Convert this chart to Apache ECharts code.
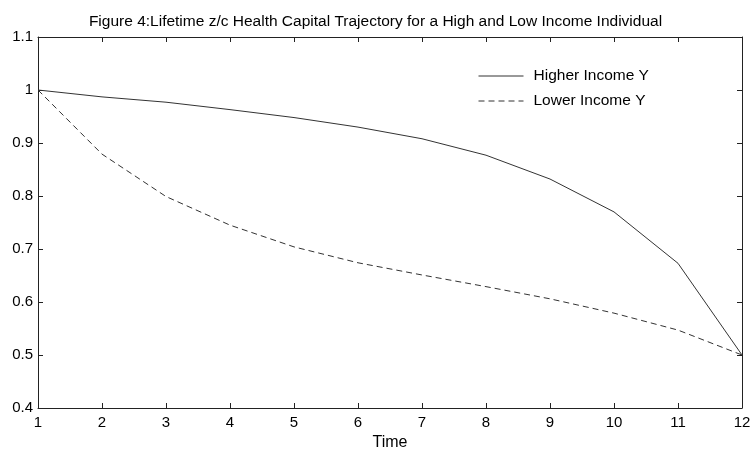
<!DOCTYPE html>
<html>
<head>
<meta charset="utf-8">
<script src="https://cdn.jsdelivr.net/npm/echarts@6/dist/echarts.min.js"></script>
<style>
  html, body { margin: 0; padding: 0; background: #fff; }
  #chart { width: 751px; height: 449px; }
</style>
</head>
<body>
<div id="chart"></div>
<script>
// Time periods and health capital trajectories
const timeSteps = [1, 2, 3, 4, 5, 6, 7, 8, 9, 10, 11, 12];
const higherIncome = [1.0, 0.987, 0.977, 0.963, 0.948, 0.930, 0.908, 0.877, 0.832, 0.770, 0.673, 0.5];
const lowerIncome = [1.0, 0.879, 0.799, 0.745, 0.704, 0.674, 0.651, 0.629, 0.606, 0.579, 0.547, 0.5];
const seriesNames = ['Higher Income Y', 'Lower Income Y'];

const font = 'Liberation Sans, Arial, sans-serif';
const ink = '#222';

const pairs = (ys) => timeSteps.map((t, i) => [t, ys[i]]);

const baseAxis = {
  axisLine: { show: true, lineStyle: { color: ink, width: 1 } },
  axisTick: { show: true, inside: true, length: 5, lineStyle: { color: ink } },
  splitLine: { show: false }
};

const chart = echarts.init(document.getElementById('chart'), null, { renderer: 'canvas' });
chart.setOption({
  animation: false,
  backgroundColor: '#fff',
  title: {
    text: 'Figure 4:Lifetime z/c Health Capital Trajectory for a High and Low Income Individual',
    left: 'center',
    top: 9,
    textStyle: { fontFamily: font, fontSize: 15.5, fontWeight: 'normal', color: '#000' }
  },
  legend: {
    orient: 'vertical',
    left: 473,
    top: 63,
    itemWidth: 45,
    itemHeight: 14,
    itemGap: 9,
    itemStyle: { opacity: 0 },
    lineStyle: { width: 1 },
    textStyle: { fontFamily: font, fontSize: 15.5, color: '#000', padding: [0, 0, 0, 5] },
    data: seriesNames
  },
  grid: { left: 38, right: 9, top: 37, bottom: 41, containLabel: false, outerBoundsMode: 'none' },
  xAxis: [
    Object.assign({}, baseAxis, {
      type: 'value', min: 1, max: 12, interval: 1,
      name: 'Time', nameLocation: 'middle', nameGap: 25,
      nameTextStyle: { fontFamily: font, fontSize: 16, color: '#000' },
      axisLabel: { fontFamily: font, fontSize: 15, color: '#000', margin: 7 }
    }),
    Object.assign({}, baseAxis, {
      type: 'value', min: 1, max: 12, interval: 1, position: 'top',
      axisLabel: { show: false }
    })
  ],
  yAxis: [
    Object.assign({}, baseAxis, {
      type: 'value', min: 0.4, max: 1.1, interval: 0.1,
      axisLabel: {
        fontFamily: font, fontSize: 15, color: '#000', margin: 5,
        formatter: (v) => String(Math.round(v * 10) / 10)
      }
    }),
    Object.assign({}, baseAxis, {
      type: 'value', min: 0.4, max: 1.1, interval: 0.1, position: 'right',
      axisLabel: { show: false }
    })
  ],
  series: [
    {
      name: seriesNames[0], type: 'line', xAxisIndex: 0, yAxisIndex: 0,
      data: pairs(higherIncome), symbol: 'none',
      lineStyle: { color: '#333', width: 1 },
      itemStyle: { color: '#333' }
    },
    {
      name: seriesNames[1], type: 'line', xAxisIndex: 0, yAxisIndex: 0,
      data: pairs(lowerIncome), symbol: 'none',
      lineStyle: { color: '#333', width: 1, type: [6, 4] },
      itemStyle: { color: '#333' }
    }
  ]
});
</script>
</body>
</html>
